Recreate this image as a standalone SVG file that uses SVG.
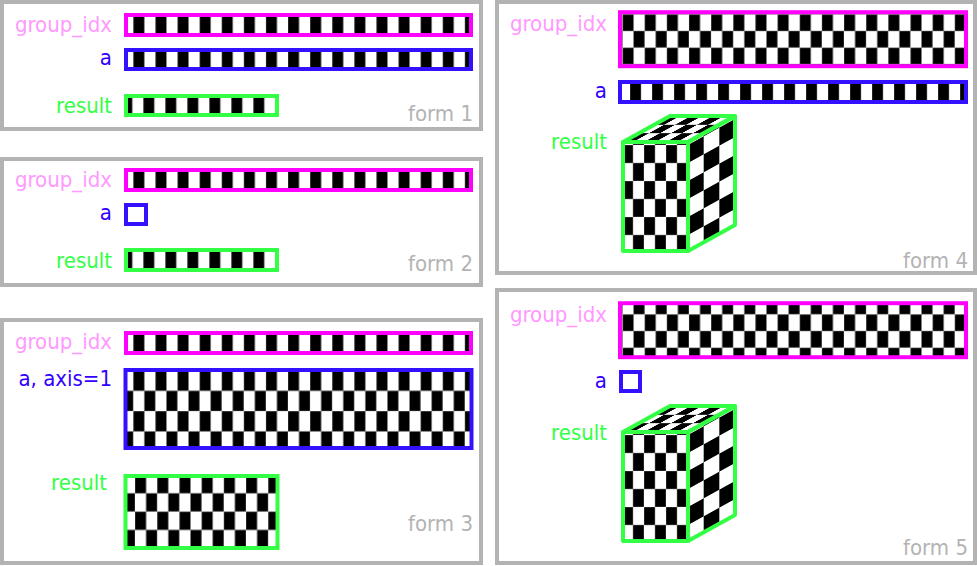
<svg xmlns="http://www.w3.org/2000/svg" width="977" height="566" viewBox="0 0 977 566">
<style>
.panel{fill:#fff;stroke:#b3b3b3;stroke-width:4}
.lbl{font-family:"DejaVu Sans Condensed","DejaVu Sans",sans-serif;font-stretch:condensed;font-size:22px;text-anchor:end}
.pk{fill:#ff99ff}.bl{fill:#3300ff}.gr{fill:#33ff44}.gy{fill:#b3b3b3}
.mg{stroke:#ff00ff;stroke-width:4}
.bs{stroke:#3311ff;stroke-width:4}
.gs{stroke:#33ff44;stroke-width:4}
.edge{fill:none;stroke:#33ff44;stroke-width:4;stroke-linejoin:round}
.ck{fill:#000;stroke:#888;stroke-width:0.5}
</style>
<defs>
<pattern id="p1" patternUnits="userSpaceOnUse" x="133.3" y="0" width="22.1" height="600"><rect width="22.1" height="600" fill="#fff"/><rect class="ck" x="0" y="-1" width="11.05" height="602"/></pattern>
<pattern id="pR" patternUnits="userSpaceOnUse" x="143.3" y="0" width="22" height="600"><rect width="22" height="600" fill="#fff"/><rect class="ck" x="0" y="-1" width="11" height="602"/></pattern>
<pattern id="p4a" patternUnits="userSpaceOnUse" x="850" y="0" width="22" height="600"><rect width="22" height="600" fill="#fff"/><rect class="ck" x="0" y="-1" width="11" height="602"/></pattern>
<pattern id="p4g" patternUnits="userSpaceOnUse" x="622.5" y="14.3" width="22.15" height="33.34"><rect width="22.15" height="33.34" fill="#fff"/><rect class="ck" x="0" y="0" width="11.075" height="16.67"/><rect class="ck" x="11.075" y="16.67" width="11.075" height="16.67"/></pattern>
<pattern id="p3a" patternUnits="userSpaceOnUse" x="133.3" y="370.5" width="22.1" height="40.6"><rect width="22.1" height="40.6" fill="#fff"/><rect class="ck" x="0" y="0" width="11.05" height="20.3"/><rect class="ck" x="11.05" y="20.3" width="11.05" height="20.3"/></pattern>
<pattern id="p3r" patternUnits="userSpaceOnUse" x="135" y="475" width="22.2" height="36.6"><rect width="22.2" height="36.6" fill="#fff"/><rect class="ck" x="0" y="0" width="11.1" height="18.3"/><rect class="ck" x="11.1" y="18.3" width="11.1" height="18.3"/></pattern>
<pattern id="pcf" patternUnits="userSpaceOnUse" x="622" y="145" width="22" height="36"><rect width="22" height="36" fill="#fff"/><rect class="ck" x="0" y="0" width="11" height="18"/><rect class="ck" x="11" y="18" width="11" height="18"/></pattern>
<pattern id="pcs" patternUnits="userSpaceOnUse" x="0" y="0" width="2" height="2" patternTransform="matrix(15.67,-8.67,0,18,688,145)"><rect width="2" height="2" fill="#fff"/><rect x="0" y="0" width="1" height="1" fill="#000"/><rect x="1" y="1" width="1" height="1" fill="#000"/></pattern>
<pattern id="pct" patternUnits="userSpaceOnUse" x="0" y="0" width="2" height="2" patternTransform="matrix(11,0,15.67,-8.67,622,142)"><rect width="2" height="2" fill="#fff"/><rect x="0" y="0" width="1" height="1" fill="#000"/><rect x="1" y="1" width="1" height="1" fill="#000"/></pattern>
<g id="cube">
<rect x="623" y="142" width="65" height="109" fill="url(#pcf)"/>
<polygon points="688,142 735,116 735,225 688,251" fill="url(#pcs)"/>
<polygon points="623,142 688,142 735,116 670,116" fill="url(#pct)"/>
<rect class="edge" x="623" y="142" width="65" height="109"/>
<polygon class="edge" points="688,142 735,116 735,225 688,251"/>
<polygon class="edge" points="623,142 688,142 735,116 670,116"/>
</g>
</defs>

<g id="form1">
<rect class="panel" x="2" y="2" width="479" height="127"/>
<text class="lbl pk" x="112" y="32">group_idx</text>
<text class="lbl bl" x="112" y="65">a</text>
<text class="lbl gr" x="112" y="113">result</text>
<text class="lbl gy" x="473" y="121">form 1</text>
<rect class="mg" x="126" y="15" width="345" height="20" fill="url(#p1)"/>
<rect class="bs" x="126" y="50" width="345" height="19" fill="url(#p1)"/>
<rect class="gs" x="126" y="96" width="151" height="19" fill="url(#pR)"/>
</g>

<g id="form2">
<rect class="panel" x="2" y="159" width="479" height="126"/>
<text class="lbl pk" x="112" y="186.5">group_idx</text>
<text class="lbl bl" x="112" y="220">a</text>
<text class="lbl gr" x="112" y="268">result</text>
<text class="lbl gy" x="473" y="271">form 2</text>
<rect class="mg" x="126" y="170" width="345" height="20" fill="url(#p1)"/>
<rect class="bs" x="126" y="205" width="20" height="19" fill="#fff"/>
<rect class="gs" x="126" y="250" width="151" height="20" fill="url(#pR)"/>
</g>

<g id="form3">
<rect class="panel" x="2" y="320" width="479" height="243"/>
<text class="lbl pk" x="112" y="349">group_idx</text>
<text class="lbl bl" x="112" y="386">a, axis=1</text>
<text class="lbl gr" x="107" y="490">result</text>
<text class="lbl gy" x="473" y="531">form 3</text>
<rect class="mg" x="126" y="333" width="345" height="20" fill="url(#p1)"/>
<rect class="bs" x="125.5" y="370" width="346" height="78" fill="url(#p3a)"/>
<rect class="gs" x="125.5" y="476" width="152" height="72" fill="url(#p3r)"/>
</g>

<g id="form4">
<rect class="panel" x="497" y="2" width="478" height="271"/>
<text class="lbl pk" x="607" y="31">group_idx</text>
<text class="lbl bl" x="607" y="98">a</text>
<text class="lbl gr" x="607" y="149">result</text>
<text class="lbl gy" x="968" y="268">form 4</text>
<rect class="mg" x="620" y="12.2" width="346" height="54" fill="url(#p4g)"/>
<rect class="bs" x="620" y="82" width="346" height="20" fill="url(#p4a)"/>
<use href="#cube"/>
</g>

<g id="form5">
<rect class="panel" x="497" y="290" width="478" height="273"/>
<text class="lbl pk" x="607" y="322">group_idx</text>
<text class="lbl bl" x="607" y="388">a</text>
<text class="lbl gr" x="607" y="440">result</text>
<text class="lbl gy" x="968" y="555">form 5</text>
<rect class="mg" x="620" y="303.2" width="346" height="54" fill="url(#p4g)" transform="translate(0,0)"/>
<rect class="bs" x="621" y="372" width="19" height="19" fill="#fff"/>
<use href="#cube" transform="translate(0,290)"/>
</g>
</svg>
